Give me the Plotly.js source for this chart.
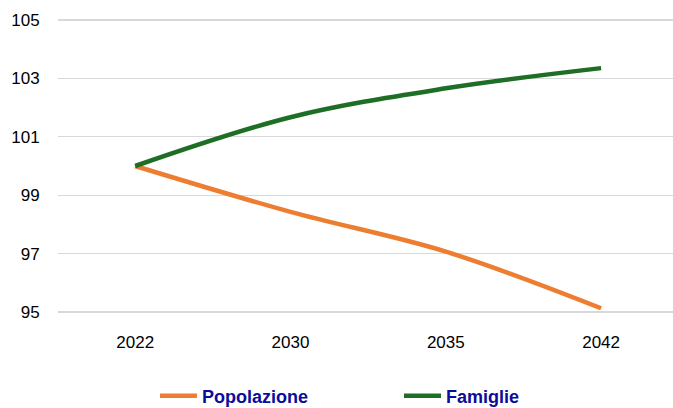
<!DOCTYPE html>
<html>
<head>
<meta charset="utf-8">
<script src="https://cdn.plot.ly/plotly-3.0.1.min.js"></script>
<style>
  html, body { margin: 0; padding: 0; background: #fff; }
  #chart { width: 673px; height: 408px; }
</style>
</head>
<body>
<div id="chart"></div>
<script>
const years = ['2022', '2030', '2035', '2042'];
const popolazione = [100, 98.43, 97.07, 95.13];
const famiglie = [100, 101.67, 102.66, 103.35];
const yTicks = [95, 97, 99, 101, 103, 105];

const traces = [
  {
    x: years, y: popolazione, name: 'Popolazione', type: 'scatter', mode: 'lines',
    line: { color: '#ED7D31', width: 4.5, shape: 'spline', smoothing: 1 }
  },
  {
    x: years, y: famiglie, name: 'Famiglie', type: 'scatter', mode: 'lines',
    line: { color: '#1E6E25', width: 4.5, shape: 'spline', smoothing: 1 }
  }
];

const layout = {
  width: 673, height: 408,
  margin: { l: 58, r: 0, t: 17, b: 93 },
  paper_bgcolor: '#fff', plot_bgcolor: '#fff',
  font: { family: 'Liberation Sans, Arial, sans-serif', size: 17, color: '#000' },
  showlegend: true,
  xaxis: {
    type: 'category', range: [-0.497, 3.463],
    showgrid: false, zeroline: false, showline: false,
    ticks: 'outside', ticklen: 12, tickcolor: 'rgba(0,0,0,0)',
    tickfont: { size: 17, color: '#000' }
  },
  yaxis: {
    range: [94.9, 105.1], tickvals: yTicks, ticktext: yTicks.map(String),
    showgrid: true, gridcolor: '#d9d9d9', gridwidth: 1.3,
    zeroline: false, showline: false,
    ticks: 'outside', ticklen: 14, tickcolor: 'rgba(0,0,0,0)',
    tickfont: { size: 17, color: '#000' }
  },
  legend: {
    orientation: 'h', xref: 'container', yref: 'container',
    x: 155 / 673, xanchor: 'left', y: 12 / 408, yanchor: 'middle',
    font: { family: 'Liberation Sans, Arial, sans-serif', size: 18, color: '#0c0c9c', weight: 'bold' },
    itemwidth: 37,
    entrywidth: 192, entrywidthmode: 'pixels',
    bgcolor: 'rgba(0,0,0,0)'
  }
};

Plotly.newPlot('chart', traces, layout, { displayModeBar: false, staticPlot: true });
</script>
</body>
</html>
